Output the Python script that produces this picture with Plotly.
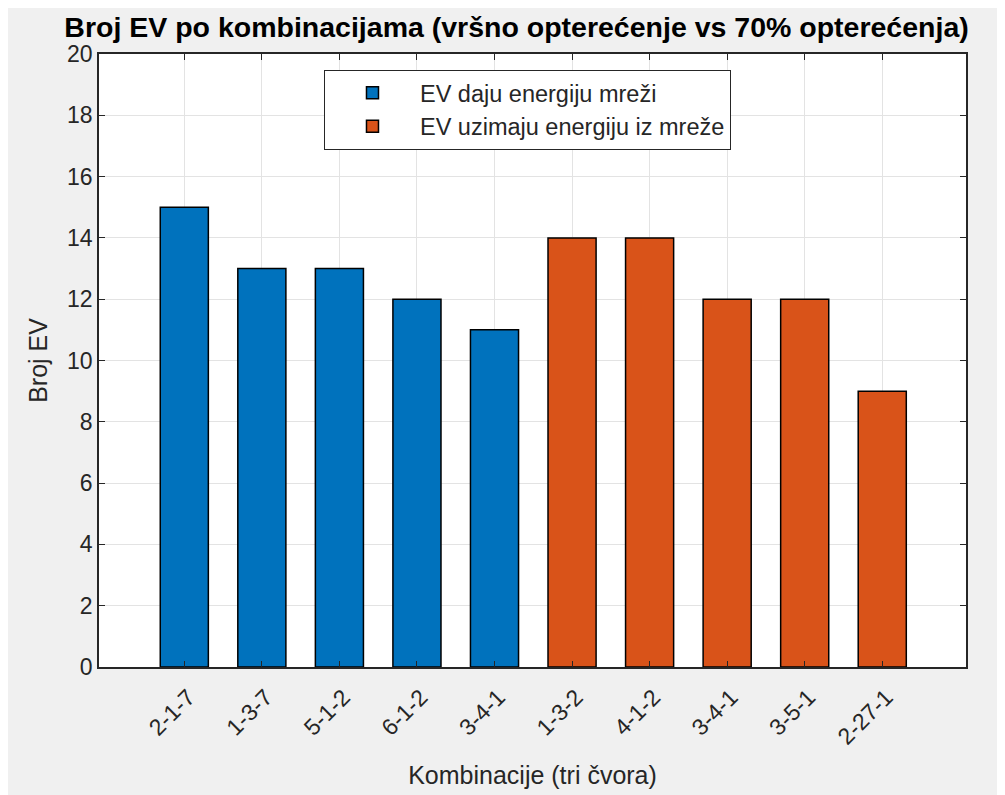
import plotly.graph_objects as go

categories = ["2-1-7", "1-3-7", "5-1-2", "6-1-2", "3-4-1",
              "1-3-2", "4-1-2", "3-4-1", "3-5-1", "2-27-1"]
give_values = [15, 13, 13, 12, 11]
take_values = [14, 14, 12, 12, 9]
y_ticks = list(range(0, 21, 2))

pos_give = list(range(len(give_values)))
pos_take = list(range(len(give_values), len(give_values) + len(take_values)))

font_family = "Liberation Sans, Arial, Helvetica, sans-serif"
axis_color = "#262626"

fig = go.Figure()
fig.add_trace(go.Bar(
    x=pos_give, y=give_values, name="EV daju energiju mreži",
    marker=dict(color="#0072BD", line=dict(color="#000000", width=1.5)),
    width=0.62,
))
fig.add_trace(go.Bar(
    x=pos_take, y=take_values, name="EV uzimaju energiju iz mreže",
    marker=dict(color="#D95319", line=dict(color="#000000", width=1.5)),
    width=0.62,
))

fig.update_layout(
    width=1005, height=795,
    margin=dict(l=91, r=47, t=46, b=136, autoexpand=False),
    paper_bgcolor="#f0f0f0",
    plot_bgcolor="#ffffff",
    barmode="overlay",
    font=dict(family=font_family, color=axis_color, size=23),
    title=dict(
        text="<b>Broj EV po kombinacijama (vršno opterećenje vs 70% opterećenja)</b>",
        x=0.506, xanchor="center", y=1 - 19 / 795, yanchor="middle",
        font=dict(size=28.5, color="#000000", family=font_family),
    ),
    legend=dict(
        x=0.2595, y=0.974, xanchor="left", yanchor="top",
        bgcolor="#ffffff", bordercolor=axis_color, borderwidth=1,
        font=dict(size=23.5, color=axis_color),
        itemwidth=85,
    ),
    xaxis=dict(
        range=[-1.1, 10.08],
        tickmode="array", tickvals=list(range(len(categories))), ticktext=categories,
        tickangle=-45,
        ticklabelstandoff=6, ticklabelshift=4,
        ticks="inside", ticklen=6, tickcolor=axis_color,
        showline=True, linecolor=axis_color, linewidth=1.5, mirror="ticks",
        showgrid=True, gridcolor="#e3e3e3", gridwidth=1,
        zeroline=False,
        title=dict(text="Kombinacije (tri čvora)", font=dict(size=25), standoff=18),
        automargin=False,
    ),
    yaxis=dict(
        range=[0, 20],
        tickmode="array", tickvals=y_ticks,
        ticks="inside", ticklen=6, tickcolor=axis_color,
        showline=True, linecolor=axis_color, linewidth=1.5, mirror="ticks",
        showgrid=True, gridcolor="#e3e3e3", gridwidth=1,
        zeroline=False,
        title=dict(text="Broj EV", font=dict(size=25), standoff=12),
        automargin=False,
    ),
)

fig.write_html("out.html")
